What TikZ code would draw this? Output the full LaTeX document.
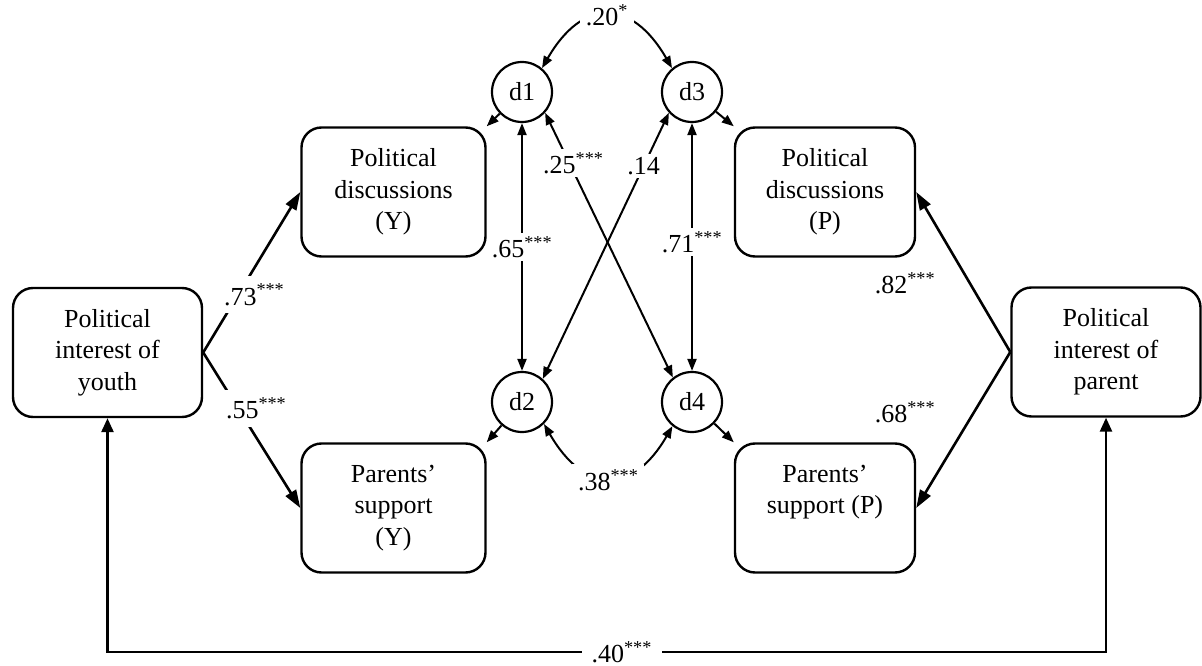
\documentclass[tikz,border=0pt]{standalone}
\usepackage{fontspec}
\setmainfont{Liberation Serif}
\usetikzlibrary{arrows.meta}
\begin{document}
\begin{tikzpicture}[x=1pt,y=-1pt,
  font=\fontsize{26}{31.5}\selectfont,
  box/.style={draw, line width=2.4pt, rounded corners=20pt, minimum width=184pt, minimum height=129pt, align=center, inner sep=0pt},
  sidebox/.style={box, minimum width=189pt},
  dnode/.style={draw, circle, line width=2.2pt, minimum size=60pt, inner sep=0pt},
  bigarr/.style={line width=2.6pt, -{Triangle[length=18pt,width=12pt]}},
  bigdbl/.style={line width=2.6pt, {Triangle[length=14pt,width=12pt]}-{Triangle[length=14pt,width=12pt]}},
  smarr/.style={line width=2pt, -{Triangle[length=12pt,width=9pt]}},
  dblarr/.style={line width=2pt, {Triangle[length=12pt,width=9pt]}-{Triangle[length=12pt,width=9pt]}},
  lab/.style={fill=white, inner sep=3pt}
]
\useasboundingbox (0,0) rectangle (1202,666);

% boxes
\node[sidebox] (youth) at (107.5,352.5) {Political\\interest of\\youth};
\node[sidebox] (parent) at (1106,352) {Political\\interest of\\parent};
\node[box] (pdy) at (393.5,192) {Political\\discussions\\(Y)};
\node[box] (psy) at (393.5,508) {Parents’\\support\\(Y)};
\node[box, minimum width=180pt] (pdp) at (825,192) {Political\\discussions\\(P)};
\node[box, minimum width=180pt] (psp) at (825,508) {Parents’\\support (P)\\\phantom{(P)}};

% disturbances
\node[dnode] (d1) at (522,92) {d1};
\node[dnode] (d3) at (692,92) {d3};
\node[dnode] (d2) at (522,402) {d2};
\node[dnode] (d4) at (692,402) {d4};

% disturbance paths
\draw[smarr] (d1) -- (pdy.north east);
\draw[smarr] (d2) -- (psy.north east);
\draw[smarr] (d3) -- (pdp.north west);
\draw[smarr] (d4) -- (psp.north west);

% covariances
\draw[dblarr] (d1) -- node[lab] (l65) {.65\textsuperscript{***}} (d2);
\draw[dblarr] (d3) -- node[lab, pos=0.48] (l71) {.71\textsuperscript{***}} (d4);
\draw[dblarr] (d1.-42) -- node[lab, pos=0.19, xshift=4pt] (l25) {.25\textsuperscript{***}} (d4.128);
\draw[dblarr] (d3.222) -- node[lab, pos=0.2] (l14) {.14} (d2.48);
\draw[dblarr] (d1.50) to[out=60,in=120,looseness=1.6] node[lab, inner sep=6pt] (l20) {.20\textsuperscript{*}} (d3.130);
\draw[dblarr] (d2.-45) to[out=-60,in=-120,looseness=1.6] node[lab, inner sep=6pt, yshift=-3pt] (l38) {.38\textsuperscript{***}} (d4.231);

% structural paths
\draw[bigarr] (youth.east) -- node[lab, pos=0.36, xshift=16pt, inner sep=8pt] (l73) {.73\textsuperscript{***}} (pdy.west);
\draw[bigarr] (youth.east) -- node[lab, pos=0.36, xshift=18pt, inner sep=8pt] (l55) {.55\textsuperscript{***}} (psy.west);
\draw[bigarr] (parent.west) -- (pdp.east);
\draw[bigarr] (parent.west) -- (psp.east);
\node (l82) at (905,283) {.82\textsuperscript{***}};
\node (l68) at (905,412) {.68\textsuperscript{***}};

% bottom covariance
\coordinate (bl) at (107.5,652);
\coordinate (br) at (1106,652);
\draw[bigdbl] (youth.south) -- (bl) -- node[lab, pos=0.515, inner sep=10pt] (l40) {.40\textsuperscript{***}} (br) -- (parent.south);
\end{tikzpicture}
\end{document}
